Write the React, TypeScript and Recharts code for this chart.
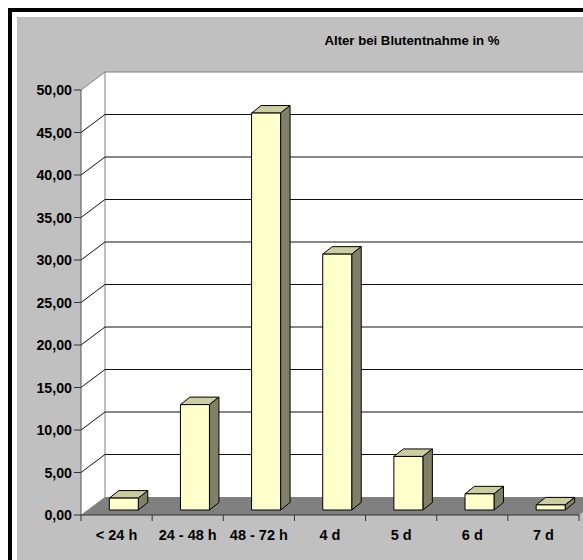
import React from 'react';
import { BarChart, Bar, XAxis, YAxis, CartesianGrid } from 'recharts';

const categories = ['< 24 h', '24 - 48 h', '48 - 72 h', '4 d', '5 d', '6 d', '7 d'];
const percentValues = [1.4, 12.4, 46.7, 30.1, 6.3, 1.9, 0.6];
const yTicks = [0, 5, 10, 15, 20, 25, 30, 35, 40, 45, 50];
const chartTitle = 'Alter bei Blutentnahme in %';

const data = categories.map((c, i) => ({ name: c, value: percentValues[i] }));

const W = 583;
const H = 560;
const DX = 24; // wall depth x
const DY = 18; // wall depth y
const BAR_SHIFT_X = 7.3;
const BAR_SHIFT_Y = 5;
const BAR_DX = 9.5;
const BAR_DY = 7.5;
const FONT = 'Arial, "Liberation Sans", Helvetica, sans-serif';
const AXIS_COLOR = '#333333';

function Walls(p: any) {
  const { x, y, width, height, index } = p;
  if (index !== 0) return <g key={p.key} />;
  const b = y + height;
  const r = x + width;
  const far = r + DX + 60;
  return (
    <g key={p.key}>
      <polygon
        points={`${x},${y} ${x + DX},${y - DY} ${far},${y - DY} ${far},${b - DY} ${x + DX},${b - DY} ${x},${b}`}
        fill="#ffffff"
        stroke="none"
      />
      <polygon
        points={`${x},${b} ${x + DX},${b - DY} ${r + DX},${b - DY} ${r},${b}`}
        fill="#808080"
        stroke="none"
      />
      <line x1={x + DX} y1={y - DY} x2={x + DX} y2={b - DY} stroke="#808080" strokeWidth={1} />
    </g>
  );
}

function GridLine(p: any) {
  const { x1, x2, y1, y, height } = p;
  const bottom = y + height;
  if (Math.abs(y1 - bottom) < 0.5) return <g key={p.key} />;
  const isTop = Math.abs(y1 - y) < 0.5;
  const stroke = isTop ? '#808080' : '#111111';
  return (
    <g key={p.key}>
      <line x1={x1} y1={y1} x2={x1 + DX} y2={y1 - DY} stroke={stroke} strokeWidth={1} />
      <line x1={x1 + DX} y1={y1 - DY} x2={x2 + DX + 60} y2={y1 - DY} stroke={stroke} strokeWidth={1} />
    </g>
  );
}

function Bar3D(p: any) {
  const { x, y, width, height } = p;
  if (height == null || width == null) return <g />;
  const fx = x + BAR_SHIFT_X;
  const fy = y - BAR_SHIFT_Y;
  const h = height;
  const w = width;
  return (
    <g strokeLinejoin="round">
      <polygon
        points={`${fx},${fy} ${fx + BAR_DX},${fy - BAR_DY} ${fx + w + BAR_DX},${fy - BAR_DY} ${fx + w},${fy}`}
        fill="#CCCCA3"
        stroke="#000"
        strokeWidth={1}
      />
      <polygon
        points={`${fx + w},${fy} ${fx + w + BAR_DX},${fy - BAR_DY} ${fx + w + BAR_DX},${fy + h - BAR_DY} ${fx + w},${fy + h}`}
        fill="#808066"
        stroke="#000"
        strokeWidth={1}
      />
      <rect x={fx} y={fy} width={w} height={h} fill="#FFFFCC" stroke="#000" strokeWidth={1} />
    </g>
  );
}

function XTick(p: any) {
  const { x, y, payload, index, width } = p;
  const half = typeof payload?.offset === 'number' && payload.offset > 0 ? payload.offset : width / (2 * categories.length);
  return (
    <g>
      {index === 0 && <line x1={x - half} y1={y} x2={x - half} y2={y + 6} stroke={AXIS_COLOR} />}
      <line x1={x + half} y1={y} x2={x + half} y2={y + 6} stroke={AXIS_COLOR} />
      <text x={x} y={y + 24.5} textAnchor="middle" fontFamily={FONT} fontWeight="bold" fontSize={14.5} fill="#000">
        {payload.value}
      </text>
    </g>
  );
}

const fmt = (v: number) => v.toFixed(2).replace('.', ',');

export default function App() {
  return (
    <div style={{ position: 'relative', width: W, height: H, overflow: 'hidden', background: '#fff' }}>
      <style>{'body{margin:0;overflow:hidden}'}</style>
      <div style={{ position: 'absolute', left: 8, top: 8, width: 700, height: 700, background: '#000' }} />
      <div style={{ position: 'absolute', left: 12, top: 12, width: 700, height: 700, background: '#fff' }} />
      <div style={{ position: 'absolute', left: 17, top: 17, width: 700, height: 700, background: '#c0c0c0' }} />
      <div
        style={{
          position: 'absolute',
          left: 262,
          top: 34,
          width: 300,
          textAlign: 'center',
          fontFamily: FONT,
          fontWeight: 'bold',
          fontSize: 13.2,
          lineHeight: '13px',
          color: '#000',
        }}
      >
        {chartTitle}
      </div>
      <div style={{ position: 'absolute', left: 0, top: 0 }}>
        <BarChart
          width={W}
          height={H}
          data={data}
          margin={{ top: 90, right: 4, bottom: 0, left: 0 }}
          barSize={29}
        >
          <CartesianGrid vertical={false} horizontal={Walls} stroke="none" />
          <CartesianGrid vertical={false} horizontal={GridLine} />
          <XAxis
            dataKey="name"
            height={45}
            axisLine={{ stroke: AXIS_COLOR }}
            tickLine={false}
            tickSize={0}
            tickMargin={0}
            tick={<XTick />}
            interval={0}
          />
          <YAxis
            width={81}
            domain={[0, 50]}
            ticks={yTicks}
            tickFormatter={fmt}
            axisLine={{ stroke: '#555555' }}
            tickLine={{ stroke: AXIS_COLOR }}
            tickSize={7}
            tickMargin={2}
            tick={{ fontFamily: FONT, fontWeight: 'bold', fontSize: 14.2, fill: '#000' }}
            interval={0}
          />
          <Bar dataKey="value" shape={<Bar3D />} isAnimationActive={false} />
        </BarChart>
      </div>
    </div>
  );
}
